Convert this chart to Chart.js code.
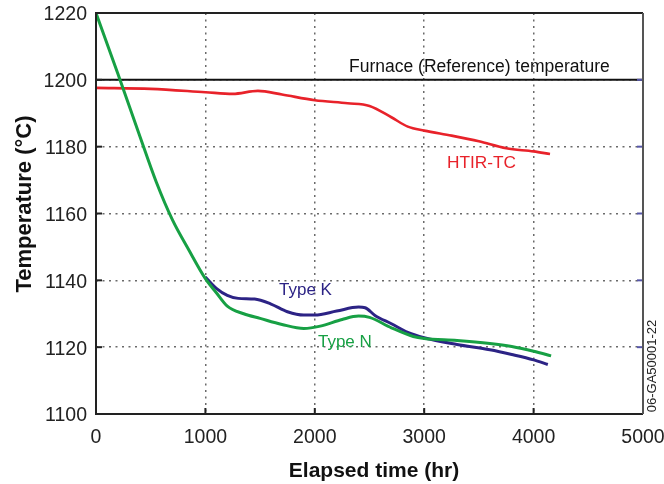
<!DOCTYPE html>
<html>
<head>
<meta charset="utf-8">
<script src="https://cdn.jsdelivr.net/npm/chart.js@4/dist/chart.umd.min.js"></script>
<style>
  body { margin: 0; background: #fff; }
  canvas { display: block; }
</style>
</head>
<body>
<canvas id="tempChart" width="664" height="484"></canvas>
<script>
// Values (hours, degrees C)
const xTicks = [0, 1000, 2000, 3000, 4000, 5000];
const yTicks = [1100, 1120, 1140, 1160, 1180, 1200, 1220];

const furnaceTime = [0, 5000];
const furnaceTemp = [1200, 1200];

const htirTime = [0, 500, 1000, 1250, 1480, 1700, 2000, 2300, 2500, 2700, 2850, 3000, 3250, 3500, 3750, 4000, 4150];
const htirTemp = [1197.6, 1197.3, 1196.3, 1195.8, 1196.7, 1195.6, 1193.9, 1193.0, 1192.2, 1188.8, 1186.0, 1184.8, 1183.3, 1181.6, 1179.5, 1178.6, 1177.8];

const typeKTime = [1000, 1100, 1200, 1300, 1450, 1600, 1750, 1900, 2000, 2200, 2400, 2460, 2550, 2700, 2850, 3000, 3300, 3600, 3800, 4000, 4130];
const typeKTemp = [1141.0, 1137.6, 1135.5, 1134.6, 1134.4, 1132.9, 1130.6, 1129.6, 1129.6, 1130.8, 1132.0, 1131.8, 1129.5, 1127.0, 1124.4, 1122.8, 1120.8, 1119.2, 1117.8, 1116.2, 1114.8];

const typeNTime = [0, 200, 400, 550, 700, 850, 1000, 1100, 1200, 1350, 1500, 1700, 1900, 2050, 2250, 2400, 2500, 2700, 2900, 3000, 3300, 3600, 3800, 4000, 4160];
const typeNTemp = [1220, 1201.8, 1183.2, 1169.5, 1158, 1149, 1140.5, 1136.3, 1132.3, 1130.0, 1128.6, 1126.8, 1125.6, 1126.3, 1128.3, 1129.3, 1128.9, 1125.8, 1123.2, 1122.6, 1122.0, 1121.1, 1120.2, 1118.8, 1117.4];

const FONT = "'Liberation Sans', Arial, sans-serif";
const RED = '#e8222a';
const GREEN = '#17a044';
const BLUE = '#2c2385';

function toPoints(xs, ys) {
  return xs.map((x, i) => ({ x: x, y: ys[i] }));
}

// keep the plot box fixed, labels may hang outside it
function noScalePadding(scale) {
  scale.paddingTop = 0;
  scale.paddingBottom = 0;
  scale.paddingLeft = 0;
  scale.paddingRight = 0;
}

// frame, inward tick marks, axis titles and the text labels inside the plot
const framePlugin = {
  id: 'frame',
  afterDraw(chart) {
    const { ctx, chartArea: a, scales } = chart;
    const xs = scales.x, ys = scales.y;
    ctx.save();

    // tick marks pointing into the plot
    ctx.lineWidth = 2;
    ctx.strokeStyle = '#222';
    xTicks.slice(1, -1).forEach(v => {
      const px = xs.getPixelForValue(v);
      ctx.beginPath();
      ctx.moveTo(px, a.bottom);
      ctx.lineTo(px, a.bottom - 6);
      ctx.stroke();
    });
    yTicks.slice(1, -1).forEach(v => {
      const py = ys.getPixelForValue(v);
      ctx.beginPath();
      ctx.moveTo(a.left, py);
      ctx.lineTo(a.left + 6, py);
      ctx.stroke();
    });
    ctx.strokeStyle = '#5656a8';
    yTicks.slice(1, -1).forEach(v => {
      const py = ys.getPixelForValue(v);
      ctx.beginPath();
      ctx.moveTo(a.right, py);
      ctx.lineTo(a.right - 6, py);
      ctx.stroke();
    });

    // plot frame
    ctx.lineWidth = 2;
    ctx.strokeStyle = '#222';
    ctx.beginPath();
    ctx.moveTo(a.right, a.top);
    ctx.lineTo(a.left, a.top);
    ctx.lineTo(a.left, a.bottom);
    ctx.lineTo(a.right, a.bottom);
    ctx.stroke();
    ctx.strokeStyle = '#555';
    ctx.beginPath();
    ctx.moveTo(a.right, a.top);
    ctx.lineTo(a.right, a.bottom);
    ctx.stroke();

    // axis titles
    ctx.textBaseline = 'middle';
    ctx.textAlign = 'center';
    ctx.fillStyle = '#111';
    ctx.font = 'bold 21px ' + FONT;
    ctx.fillText('Elapsed time (hr)', 374, 471);
    ctx.save();
    ctx.translate(25, 204);
    ctx.rotate(-Math.PI / 2);
    ctx.font = 'bold 22px ' + FONT;
    ctx.fillText('Temperature (°C)', 0, 0);
    ctx.restore();

    // curve labels
    ctx.textAlign = 'left';
    ctx.font = '17.5px ' + FONT;
    ctx.fillStyle = '#111';
    ctx.fillText('Furnace (Reference) temperature', xs.getPixelForValue(2313), ys.getPixelForValue(1203.8));
    ctx.font = '17.3px ' + FONT;
    ctx.fillStyle = RED;
    ctx.fillText('HTIR-TC', xs.getPixelForValue(3208), ys.getPixelForValue(1175.1));
    ctx.font = '17px ' + FONT;
    ctx.fillStyle = BLUE;
    ctx.fillText('Type K', xs.getPixelForValue(1673), ys.getPixelForValue(1137.1));
    ctx.fillStyle = GREEN;
    ctx.fillText('Type N', xs.getPixelForValue(2029), ys.getPixelForValue(1121.5));

    // figure id, rotated at the right edge
    ctx.save();
    ctx.translate(a.right + 9, 366);
    ctx.rotate(-Math.PI / 2);
    ctx.textAlign = 'center';
    ctx.font = '13px ' + FONT;
    ctx.fillStyle = '#222';
    ctx.fillText('06-GA50001-22', 0, 0);
    ctx.restore();

    ctx.restore();
  }
};

const gridStyle = {
  color: '#6a6a6a',
  lineWidth: 1.5,
  drawTicks: false
};

new Chart(document.getElementById('tempChart').getContext('2d'), {
  type: 'line',
  data: {
    datasets: [
      {
        label: 'Type N',
        data: toPoints(typeNTime, typeNTemp),
        borderColor: GREEN,
        borderWidth: 3,
        pointRadius: 0,
        cubicInterpolationMode: 'monotone'
      },
      {
        label: 'Type K',
        data: toPoints(typeKTime, typeKTemp),
        borderColor: BLUE,
        borderWidth: 3,
        pointRadius: 0,
        cubicInterpolationMode: 'monotone'
      },
      {
        label: 'HTIR-TC',
        data: toPoints(htirTime, htirTemp),
        borderColor: RED,
        borderWidth: 2.6,
        pointRadius: 0,
        cubicInterpolationMode: 'monotone'
      },
      {
        label: 'Furnace (Reference) temperature',
        data: toPoints(furnaceTime, furnaceTemp),
        borderColor: '#111',
        borderWidth: 2,
        pointRadius: 0
      }
    ]
  },
  options: {
    responsive: false,
    devicePixelRatio: 1,
    animation: false,
    layout: {
      padding: { left: 0, right: 21, top: 13, bottom: 0 }
    },
    plugins: {
      legend: { display: false },
      tooltip: { enabled: false }
    },
    scales: {
      x: {
        type: 'linear',
        min: 0,
        max: 5000,
        afterBuildTicks: scale => { scale.ticks = xTicks.map(v => ({ value: v })); },
        ticks: {
          font: { family: FONT, size: 19.5 },
          color: '#222',
          padding: 12,
          maxRotation: 0,
          callback: v => String(v)
        },
        grid: gridStyle,
        border: { display: false, dash: [2, 4.5] },
        afterFit: scale => { scale.height = 70; noScalePadding(scale); }
      },
      y: {
        type: 'linear',
        min: 1100,
        max: 1220,
        afterBuildTicks: scale => { scale.ticks = yTicks.map(v => ({ value: v })); },
        ticks: {
          font: { family: FONT, size: 19.5 },
          color: '#222',
          padding: 9,
          labelOffset: 2,
          callback: v => String(v)
        },
        grid: gridStyle,
        border: { display: false, dash: [2, 4.5] },
        afterFit: scale => { scale.width = 96; noScalePadding(scale); }
      }
    }
  },
  plugins: [framePlugin]
});
</script>
</body>
</html>
